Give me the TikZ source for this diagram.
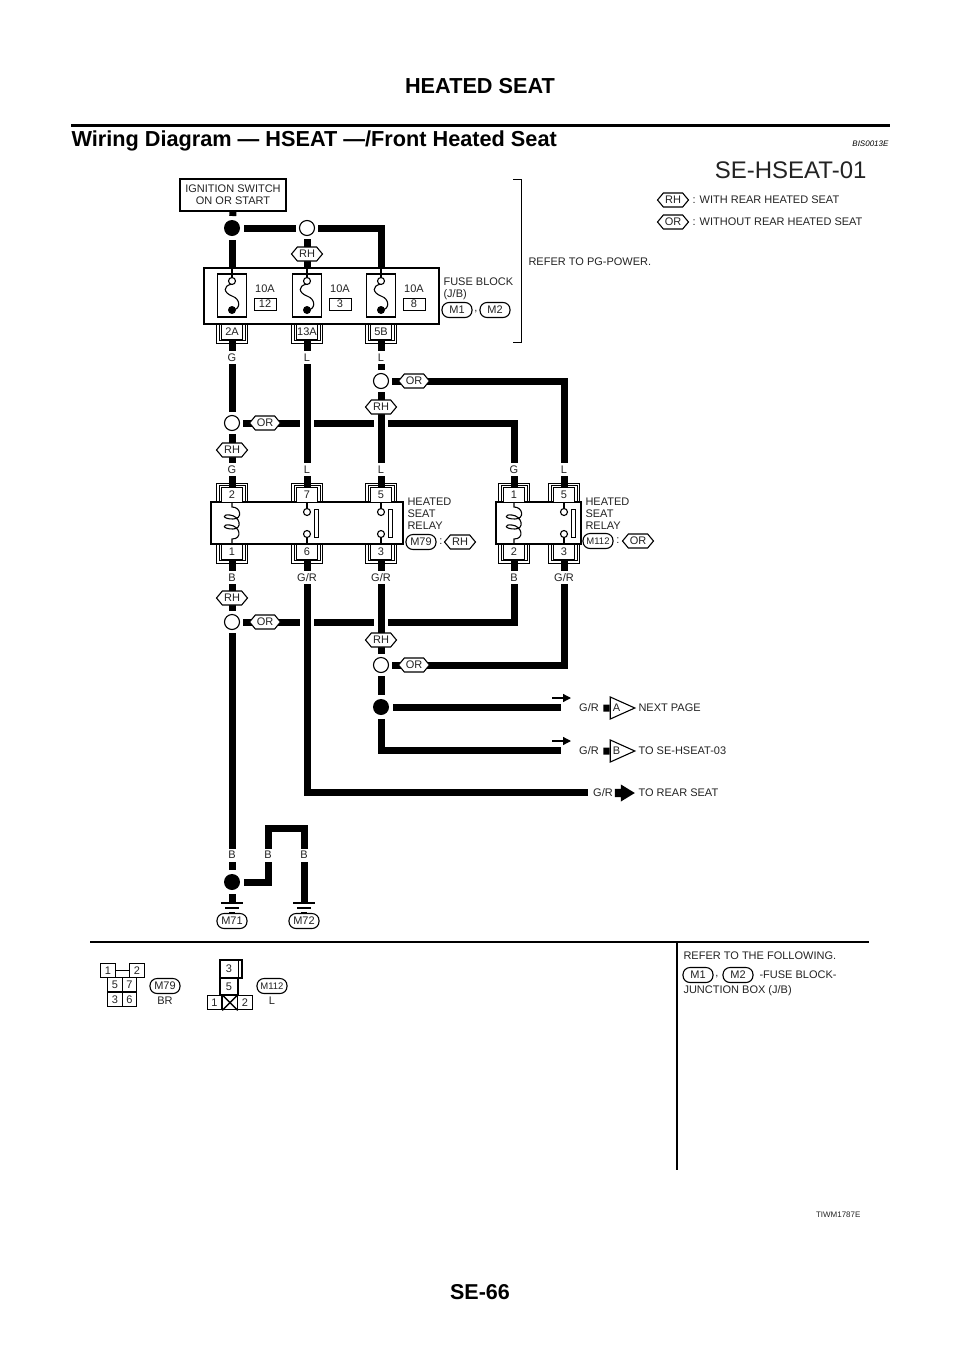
\documentclass[tikz,border=0pt]{standalone}
\usepackage{fontspec}
\setmainfont{Liberation Sans}
\usetikzlibrary{shapes.arrows, shapes.symbols, shapes.geometric, backgrounds, arrows.meta}
\definecolor{inkGrey}{RGB}{35, 35, 35}
\newcommand{\lblfont}{\fontsize{11}{12}\selectfont}
% number box of a connector with its double bracket
\newcommand{\conbox}[5]{
    \node [draw, fill=white, line width=0.9pt, minimum width=21, minimum height=15, inner sep=0pt, font=\lblfont, text=inkGrey] (#5) at (#1, #2+#3*7.5) {#4};
    \draw [thinline] (#1-15.5, #2) -- ++(0, #3*19) -- ++(31, 0) -- ++(0, -#3*19);
    \draw [thinline] (#1-13, #2) -- ++(0, #3*16.5) -- ++(26, 0) -- ++(0, -#3*16.5);
}
\tikzset{thinline/.style={line width=0.7pt}}

\begin{document}
\begin{tikzpicture} [
        x=1pt, y=-1pt,
        line width=1.1pt,
        wire/.style={line width=7pt},
        crosswire/.style={wire, preaction={draw=white, line width=14pt}},
        lbl/.style={font=\lblfont, text=inkGrey, inner sep=0pt},
        wl/.style={font=\lblfont, text=inkGrey, fill=white, inner xsep=1pt, inner ysep=0pt, minimum height=13},
        hexa/.style={signal, signal to=west and east, signal pointer angle=100, draw, fill=white, font=\lblfont, text=inkGrey, inner sep=0pt, minimum width=31, minimum height=14},
        oval/.style={draw, fill=white, rounded corners=7pt, font=\lblfont, text=inkGrey, inner sep=0pt, minimum width=30, minimum height=15},
        jdot/.style={circle, fill=black, minimum size=16, inner sep=0pt, outer sep=4pt},
        jopen/.style={circle, draw, fill=white, minimum size=15, inner sep=0pt, outer sep=3.5pt},
        pin/.style={circle, draw, fill=white, minimum size=7, inner sep=0pt},
        pindot/.style={circle, fill=black, minimum size=8, inner sep=0pt},
        cell/.style={draw, font=\lblfont, text=inkGrey, inner sep=0pt, minimum width=14.5, minimum height=14.5},
        bus/.style={single arrow, single arrow head extend=4.5pt, single arrow tip angle=63, fill=black, inner xsep=0pt, inner ysep=3.5pt, minimum height=19, minimum width=16},
        offpage/.style={isosceles triangle, isosceles triangle stretches, draw, fill=white, font=\lblfont, text=inkGrey, inner sep=0pt, minimum height=24.5, minimum width=22}
    ]
    \useasboundingbox (0, 0) rectangle (960, 1358);

    % PAGE HEAD
    \node [font=\bfseries\fontsize{21.7}{25}\selectfont, inner sep=0pt] (pagehead) at (480, 86) {HEATED SEAT};
    \draw [line width=3pt] (71, 125) -- (890, 125);
    \node [font=\bfseries\fontsize{21.7}{25}\selectfont, inner sep=0pt, anchor=base west] (pagetitle) at (71, 146) {Wiring Diagram — HSEAT —/Front Heated Seat};
    \node [font=\itshape\fontsize{8}{10}\selectfont, inner sep=0pt, anchor=base east] (refcode) at (889, 146) {BIS0013E};
    \node [font=\fontsize{24}{28}\selectfont, inner sep=0pt, anchor=base east, text=inkGrey] (sheet) at (867, 178) {SE-HSEAT-01};

    % LEGEND
    \node [hexa] (legRH) at (673, 200) {RH};
    \node [lbl, anchor=west] (legRHt) at (692, 200) {: WITH REAR HEATED SEAT};
    \node [hexa] (legOR) at (673, 222) {OR};
    \node [lbl, anchor=west] (legORt) at (692, 222) {: WITHOUT REAR HEATED SEAT};

    % FUSE BLOCK
    \node [draw, minimum width=106, minimum height=32, inner sep=0pt, font=\lblfont, align=center, text=inkGrey] (ign) at (233, 195) {IGNITION SWITCH\\ON OR START};
    \node [jdot] (jTop) at (232, 228) {};
    \node [jopen] (oTop) at (307, 228) {};
    \node [hexa] (hTop) at (307, 254) {RH};
    \node [draw, minimum width=235, minimum height=56] (fb) at (321.5, 296) {};
    \foreach \x/\num/\conn/\cond in {232/12/2A/G, 307/3/13A/L, 381/8/5B/L} {
        \coordinate (top\conn) at (\x, 268);
        \node [draw, minimum width=29, minimum height=43] (f\num) at (\x, 295.5) {};
        \draw (\x, 268) -- (\x, 278);
        \draw (\x, 284) .. controls (\x-10, 286) and (\x-8, 293) .. (\x, 296) .. controls (\x+9, 299) and (\x+9, 310) .. (\x, 310);
        \node [pin] (fa\num) at (\x, 281) {};
        \node [pindot] (fb\num) at (\x, 310) {};
        \node [lbl] (amp\num) at (\x+33, 289) {10A};
        \node [draw, line width=0.9pt, minimum width=22, minimum height=12, inner sep=0pt, font=\lblfont, text=inkGrey] (no\num) at (\x+33, 304) {\num};
        \conbox{\x}{324}{1}{\conn}{c\conn}
        \node [wl] (w\conn) at (\x, 357.5) {\cond};
    }
    \node [lbl, anchor=north west, align=left] (fbname) at (443, 277) {FUSE BLOCK\\(J/B)};
    \node [oval] (fbM1) at (457, 310) {M1};
    \node [lbl] (fbcomma) at (476, 312) {,};
    \node [oval] (fbM2) at (495, 310) {M2};
    \draw [thinline] (513, 179) -- (521, 179) -- (521, 342) -- (513, 342);
    \node [lbl, anchor=west] (pgref) at (528, 262) {REFER TO PG-POWER.};

    % UPPER SPLICES
    \node [jopen] (oG) at (232, 423) {};
    \node [hexa] (hOG) at (265, 423) {OR};
    \node [hexa] (hRG) at (232, 450) {RH};
    \node [jopen] (oL) at (381, 381) {};
    \node [hexa] (hOL) at (414, 381) {OR};
    \node [hexa] (hRL) at (381, 407) {RH};
    \foreach \x/\name/\cond in {232/a/G, 307/b/L, 381/c/L, 514/d/G, 564/e/L}
        \node [wl] (wt\name) at (\x, 469.5) {\cond};

    % RELAYS
    \node [draw, minimum width=192, minimum height=42] (relA) at (307, 523) {};
    \node [draw, minimum width=85, minimum height=42] (relB) at (538.5, 523) {};
    \foreach \x/\up/\dn in {232/2/1, 307/7/6, 381/5/3}{
        \conbox{\x}{502}{-1}{\up}{r\up}
        \conbox{\x}{544}{1}{\dn}{r\dn}
    }
    \foreach \x/\up/\dn in {514/1/2, 564/5/3}{
        \conbox{\x}{502}{-1}{\up}{s\up}
        \conbox{\x}{544}{1}{\dn}{s\dn}
    }
    \foreach \x in {232, 514} {
        \draw (\x, 502) -- (\x, 507) .. controls (\x+9, 507) and (\x+11, 519) .. (\x+1, 519) .. controls (\x-10, 519) and (\x-10, 514) .. (\x-2, 515) .. controls (\x+8, 516) and (\x+11, 529) .. (\x+1, 529) .. controls (\x-10, 529) and (\x-10, 524) .. (\x-2, 525) .. controls (\x+8, 526) and (\x+11, 539) .. (\x, 539) -- (\x, 544);
    }
    \foreach \x/\name in {307/b, 381/c, 564/e} {
        \draw (\x, 502) -- (\x, 510);
        \draw (\x, 536) -- (\x, 544);
        \node [pin] (pa\name) at (\x, 512) {};
        \node [pin] (pb\name) at (\x, 534) {};
        \draw [thinline] (\x+7, 509) rectangle (\x+11, 537);
    }
    \node [lbl, anchor=north west, align=left] (relAname) at (407, 497) {HEATED\\SEAT\\RELAY};
    \node [oval] (relAconn) at (421, 542) {M79};
    \node [lbl] (relAcolon) at (441, 542) {:};
    \node [hexa] (relAvar) at (460, 542) {RH};
    \node [lbl, anchor=north west, align=left] (relBname) at (585, 497) {HEATED\\SEAT\\RELAY};
    \node [oval, font=\fontsize{9.5}{11}\selectfont] (relBconn) at (598, 541) {M112};
    \node [lbl] (relBcolon) at (618, 541) {:};
    \node [hexa] (relBvar) at (638, 541) {OR};

    % LOWER SPLICES
    \foreach \x/\name/\cond in {232/a/B, 307/b/G\slash R, 381/c/G\slash R, 514/d/B, 564/e/G\slash R}
        \node [wl] (wb\name) at (\x, 577.5) {\cond};
    \node [hexa] (hRB) at (232, 598) {RH};
    \node [jopen] (oB) at (232, 622) {};
    \node [hexa] (hOB) at (265, 622) {OR};
    \node [hexa] (hRR) at (381, 640) {RH};
    \node [jopen] (oR) at (381, 665) {};
    \node [hexa] (hOR) at (414, 665) {OR};
    \node [jdot] (dR) at (381, 707) {};

    % OUTPUTS
    \coordinate (endA) at (561, 707);
    \coordinate (endB) at (561, 750);
    \coordinate (endC) at (588, 792);
    \coordinate (flowAa) at (552, 698);
    \coordinate (flowAb) at (571, 698);
    \coordinate (flowBa) at (552, 741);
    \coordinate (flowBb) at (571, 741);
    \draw [-{Triangle[length=8pt, width=8pt]}, line width=1.3pt] (flowAa) -- (flowAb);
    \draw [-{Triangle[length=8pt, width=8pt]}, line width=1.3pt] (flowBa) -- (flowBb);
    \node [lbl] (grA) at (589, 708) {G/R};
    \node [lbl] (grB) at (589, 751) {G/R};
    \node [lbl] (grC) at (603, 793) {G/R};
    \node [offpage] (pageA) at (616.5, 708) {A};
    \node [offpage] (pageB) at (616.5, 751) {B};
    \node [bus, minimum height=20] (busC) at (621.5, 793) {};
    \node [lbl, anchor=west] (txtA) at (638, 708) {NEXT PAGE};
    \node [lbl, anchor=west] (txtB) at (638, 751) {TO SE-HSEAT-03};
    \node [lbl, anchor=west] (txtC) at (638, 793) {TO REAR SEAT};

    % GROUND
    \node [jdot] (bB) at (232, 882) {};
    \coordinate (bend) at (268, 828);
    \foreach \x/\name/\conn in {232/gA/M71, 304/gB/M72} {
        \coordinate (\name) at (\x, 903);
        \draw [line width=1.4pt] (\x-11, 903) -- (\x+11, 903);
        \draw [line width=1.4pt] (\x-7, 908) -- (\x+7, 908);
        \draw [line width=1.4pt] (\x-3, 913) -- (\x+3, 913);
        \node [oval] (\conn) at (\x, 921) {\conn};
    }
    \foreach \x/\name in {232/x, 268/y, 304/z}
        \node [wl] (wg\name) at (\x, 855) {B};

    \begin{scope}[on background layer]
        % WIRES: horizontals first, crossing verticals cut them
        \draw [wire] (ign.south) -- (jTop);
        \draw [wire] (jTop) -- (oTop);
        \draw [wire] (oTop) -| (top5B);
        \draw [wire] (jTop) -- (top2A);
        \draw [wire] (oTop) -- (top13A);
        \draw [wire] (c2A.south) -- (oG);
        \draw [wire] (oG) -| (s1.north);
        \draw [wire] (oG) -- (r2.north);
        \draw [wire] (c5B.south) -- (oL);
        \draw [wire] (oL) -| (s5.north);
        \draw [crosswire] (oL) -- (r5.north);
        \draw [crosswire] (c13A.south) -- (r7.north);
        \draw [wire] (r1.south) -- (oB);
        \draw [wire] (oB) -| (s2.south);
        \draw [wire] (oB) -- (bB);
        \draw [crosswire] (r6.south) |- (endC);
        \draw [crosswire] (r3.south) -- (oR);
        \draw [wire] (oR) -| (s3.south);
        \draw [wire] (oR) -- (dR);
        \draw [wire] (dR) -- (endA);
        \draw [wire] (dR) |- (endB);
        \draw [wire] (grA.east) ++(4, 0) -- (pageA.west);
        \draw [wire] (grB.east) ++(4, 0) -- (pageB.west);
        \draw [wire] (bB) -- (gA);
        \draw [wire] (bB) -| (bend) -| (gB);
    \end{scope}

    % LOWER PANEL
    \draw [line width=1.5pt] (90, 942) -- (869, 942);
    \draw [line width=1.5pt] (677, 942) -- (677, 1170);
    \foreach \x/\y/\num in {115/984.5/5, 129.5/984.5/7, 115/999.5/3, 129.5/999.5/6}
        \node [cell] (m79n\num) at (\x, \y) {\num};
    \node [cell] (m79n1) at (108, 970.5) {1};
    \node [cell] (m79n2) at (137, 970.5) {2};
    \draw (m79n1) -- (m79n2);
    \node [oval] (m79) at (165, 986) {M79};
    \node [lbl] (m79col) at (165, 1000.5) {BR};
    \node [cell, minimum width=22, minimum height=18] (m112n3) at (231, 969) {};
    \node [lbl] (m112n3t) at (229, 969) {3};
    \draw [thinline] (238, 960) -- (238, 978);
    \node [cell, minimum width=18, minimum height=17] (m112n5) at (229, 986.5) {5};
    \node [cell] (m112n1) at (214.5, 1002.5) {1};
    \node [cell] (m112x) at (230, 1002.5) {};
    \node [cell] (m112n2) at (245, 1002.5) {2};
    \draw [line width=1.4pt] (m112x.north west) -- (m112x.south east);
    \draw [line width=1.4pt] (m112x.south west) -- (m112x.north east);
    \node [oval, font=\fontsize{9.5}{11}\selectfont] (m112) at (272, 986) {M112};
    \node [lbl] (m112col) at (272, 1000.5) {L};
    \node [lbl, anchor=west] (noteA) at (683, 956) {REFER TO THE FOLLOWING.};
    \node [oval] (noteM1) at (698, 975) {M1};
    \node [lbl] (noteC) at (717, 977) {,};
    \node [oval] (noteM2) at (738, 975) {M2};
    \node [lbl, anchor=west] (noteB) at (759, 975) {-FUSE BLOCK-};
    \node [lbl, anchor=west] (noteD) at (683, 990.5) {JUNCTION BOX (J/B)};

    % FOOT
    \node [font=\fontsize{8}{10}\selectfont, inner sep=0pt, anchor=east, text=inkGrey] (figcode) at (861, 1215) {TIWM1787E};
    \node [font=\bfseries\fontsize{21.5}{25}\selectfont, inner sep=0pt] (pageno) at (480, 1292) {SE-66};
\end{tikzpicture}
\end{document}
